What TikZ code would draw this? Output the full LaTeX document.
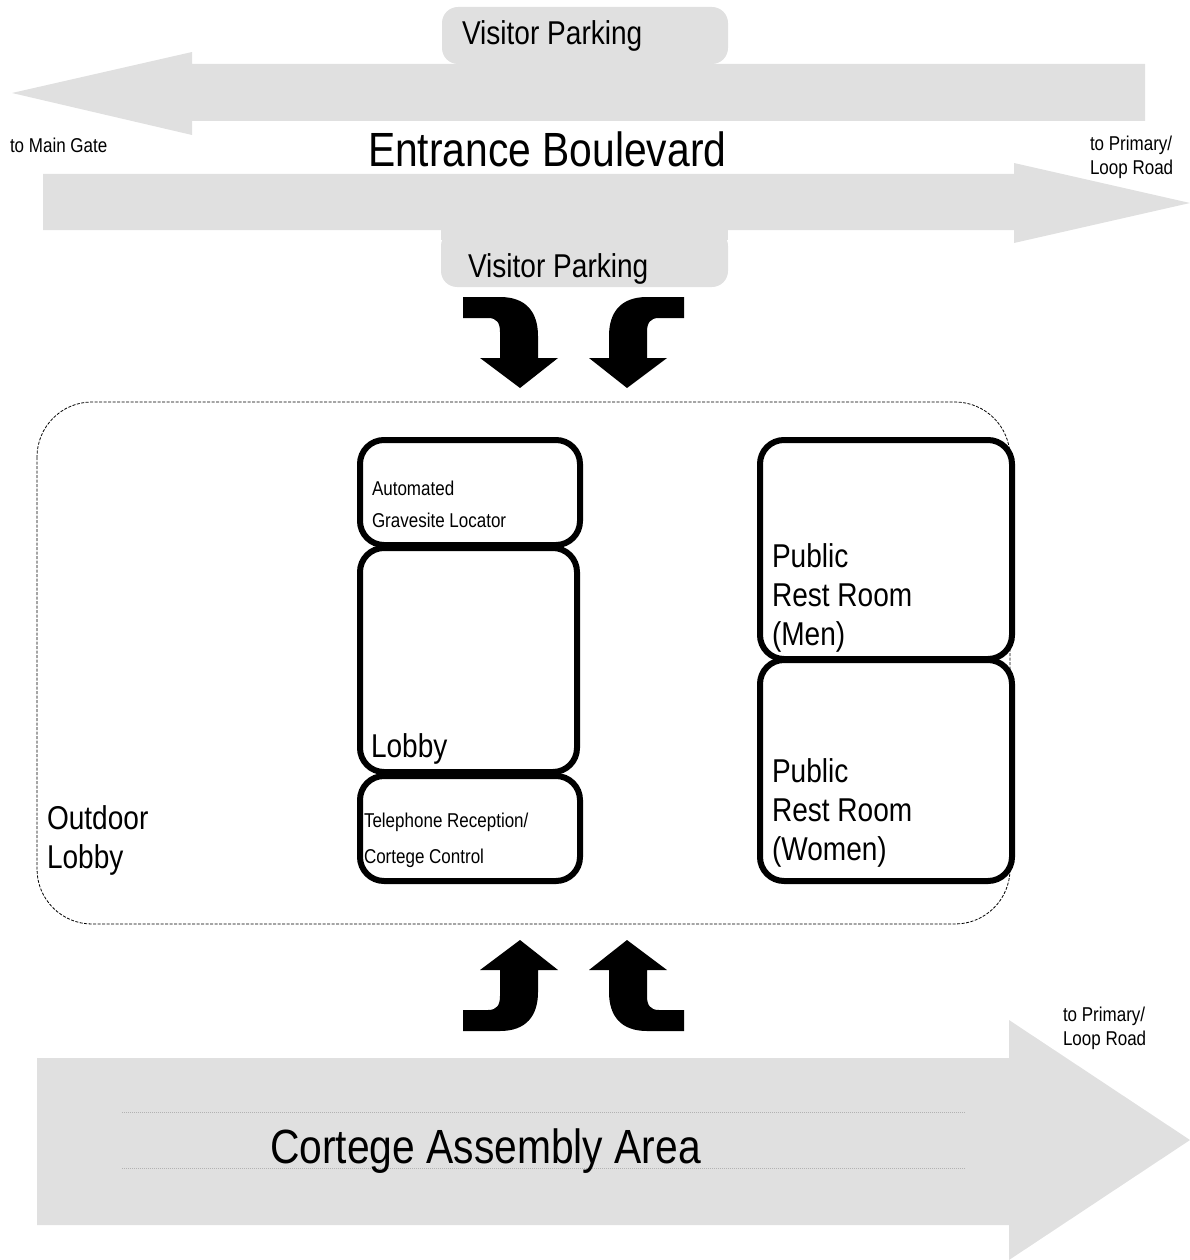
\documentclass[tikz,border=0pt]{standalone}
\usepackage{fontspec}
\setmainfont[FakeStretch=0.85]{Liberation Sans}
\definecolor{road}{HTML}{E0E0E0}
\newcommand\bentArrowShape{(463,297) -- (500,297) .. controls (526,297) and (538,312) .. (538,336) -- (538,358) -- (558,358) -- (520,388) -- (480,358) -- (500,358) -- (500,332) .. controls (500,323) and (497,318) .. (488,318) -- (463,318) -- cycle}
\begin{document}
\begin{tikzpicture}[x=1pt,y=-1pt,
  roadfill/.style={fill=road,draw=none},
  room/.style={draw=black,line width=6pt,rounded corners=24pt},
  lbl/.style={anchor=base west,inner sep=0pt,outer sep=0pt},
  small/.style={lbl,font=\fontsize{20}{24}\selectfont},
  mid/.style={lbl,font=\fontsize{33}{39}\selectfont},
  big/.style={lbl,font=\fontsize{48}{52}\selectfont},
  bent/.style={fill=black,draw=none}]
\useasboundingbox (0,0) rectangle (1190,1260);
% Entrance Boulevard roads
\fill[roadfill] (442,7) [rounded corners=16pt] -- (728,7) -- (728,64) -- (442,64) -- cycle;
\path[roadfill] (12,93) -- (192,52) -- (192,64) -- (1145,64) -- (1145,121) -- (192,121) -- (192,135) -- cycle;
\path[roadfill] (43,174) -- (1014,174) -- (1014,163) -- (1190,203) -- (1014,243) -- (1014,230) -- (43,230) -- cycle;
\fill[roadfill] (441,230) [rounded corners=16pt] -- (728,230) -- (728,287) -- (441,287) -- cycle;
\fill[road] (441,228) rectangle (728,240);
% labels top
\node[mid] (vp1) at (462,45) {Visitor Parking};
\node[small] (mg) at (10,153) {to Main Gate};
\node[big] (eb) at (368,167) {Entrance Boulevard};
\node[small,align=left] (pl1) at (1090,175) {to Primary/\\Loop Road};
\node[mid] (vp2) at (468,277) {Visitor Parking};
% bent arrows
\path[bent] \bentArrowShape;
\begin{scope}[shift={(1147,0)},xscale=-1]
\path[bent] \bentArrowShape;
\end{scope}
\begin{scope}[shift={(0,1328)},yscale=-1]
\path[bent] \bentArrowShape;
\end{scope}
\begin{scope}[shift={(1147,1328)},xscale=-1,yscale=-1]
\path[bent] \bentArrowShape;
\end{scope}
% outdoor lobby
\draw[line width=0.8pt,dash pattern=on 3pt off 1.5pt,rounded corners=55pt] (37,402) rectangle (1010,924);
\node[mid,align=left] (ol) at (47,868) {Outdoor\\Lobby};
% rooms
\draw[room] (360,440) rectangle (580,545);
\draw[room] (360,548) rectangle (577,772);
\draw[room] (360,776) rectangle (580,881);
\draw[room] (760,440) rectangle (1012,659);
\draw[room] (760,660) rectangle (1012,881);
\node[small,align=left,font=\fontsize{20}{32}\selectfont] (agl) at (372,527) {Automated\\Gravesite Locator};
\node[mid] (lob) at (371,757) {Lobby};
\node[small,align=left,font=\fontsize{20}{36}\selectfont] (tel) at (364,863) {Telephone Reception/\\Cortege Control};
\node[mid,align=left] (men) at (772,645) {Public\\Rest Room\\(Men)};
\node[mid,align=left] (wom) at (772,860) {Public\\Rest Room\\(Women)};
% cortege assembly
\path[roadfill] (37,1058) -- (1009,1058) -- (1009,1020) -- (1190,1140) -- (1009,1260) -- (1009,1225) -- (37,1225) -- cycle;
\draw[gray!60,line width=0.7pt,dash pattern=on 1pt off 1pt] (122,1112) -- (965,1112);
\draw[gray!60,line width=0.7pt,dash pattern=on 1pt off 1pt] (122,1168) -- (965,1168);
\node[big] (caa) at (270,1163) {Cortege Assembly Area};
\node[small,align=left] (pl2) at (1063,1045) {to Primary/\\Loop Road};
\end{tikzpicture}
\end{document}
